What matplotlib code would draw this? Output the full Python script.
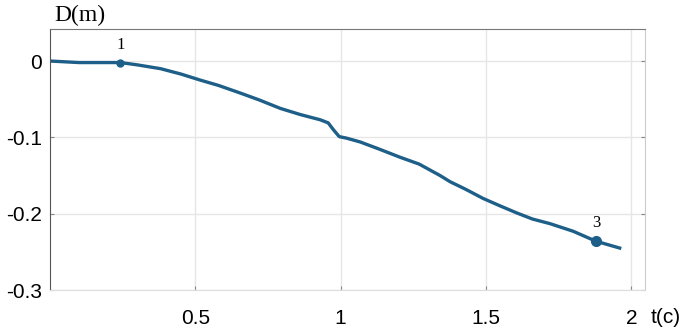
import numpy as np
import matplotlib.pyplot as plt

# curve
t = [0.0, 0.05, 0.10, 0.15, 0.20, 0.242, 0.30, 0.38, 0.45, 0.517, 0.58, 0.655, 0.72,
     0.792, 0.86, 0.930, 0.957, 0.975, 0.995, 1.02, 1.067, 1.13, 1.204, 1.27, 1.342,
     1.376, 1.43, 1.490, 1.55, 1.606, 1.66, 1.720, 1.80, 1.878, 1.960]
d = [0.0, -0.001, -0.002, -0.002, -0.002, -0.002, -0.005, -0.010, -0.017, -0.025,
     -0.032, -0.042, -0.051, -0.062, -0.070, -0.077, -0.081, -0.090, -0.099, -0.101,
     -0.106, -0.115, -0.126, -0.135, -0.150, -0.158, -0.168, -0.180, -0.190, -0.199,
     -0.207, -0.213, -0.223, -0.236, -0.245]

pt_t = [0.242, 1.878]
pt_d = [-0.002, -0.236]
pt_lab = ['1', '3']
pt_size = [5, 7]

xticks = [0.5, 1, 1.5, 2]
xlabels = ['0.5', '1', '1.5', '2']
yticks = [0, -0.1, -0.2, -0.3]
ylabels = ['0', '-0.1', '-0.2', '-0.3']

col = '#1d5f88'

fig = plt.figure(figsize=(6.91, 3.33), dpi=100)
ax = fig.add_axes([0.0724, 0.129, 0.861, 0.784])

ax.plot(t, d, color=col, lw=2.4)
for x, y, s, m in zip(pt_t, pt_d, pt_lab, pt_size):
    ax.plot(x, y, 'o', color=col, ms=m)
    ax.text(x, y + 0.013, s, ha='center', va='bottom', fontsize=12,
            family='Liberation Serif')

ax.set_xlim(0, 2.047)
ax.set_ylim(-0.3, 0.042)
ax.set_xticks(xticks)
ax.set_xticklabels(xlabels)
ax.set_yticks(yticks)
ax.set_yticklabels(ylabels)
ax.tick_params(direction='in', length=3, color='#888888', labelsize=15,
               top=False, right=True)
ax.tick_params(axis='x', pad=14)
ax.tick_params(axis='y', pad=6)
for lab in ax.get_xticklabels() + ax.get_yticklabels():
    lab.set_family('Liberation Sans')
ax.grid(True, color='#e6e6e6', lw=1)

ax.spines['left'].set_color('#555555')
ax.spines['top'].set_color('#777777')
ax.spines['right'].set_color('#cccccc')
ax.spines['bottom'].set_color('#dddddd')

fig.text(0.078, 0.955, 'D(m)', fontsize=17, family='Liberation Serif', va='center')
fig.text(0.963, 0.048, 't(c)', fontsize=15, family='Liberation Sans', ha='center', va='center')

fig.savefig('out.png', dpi=100)
